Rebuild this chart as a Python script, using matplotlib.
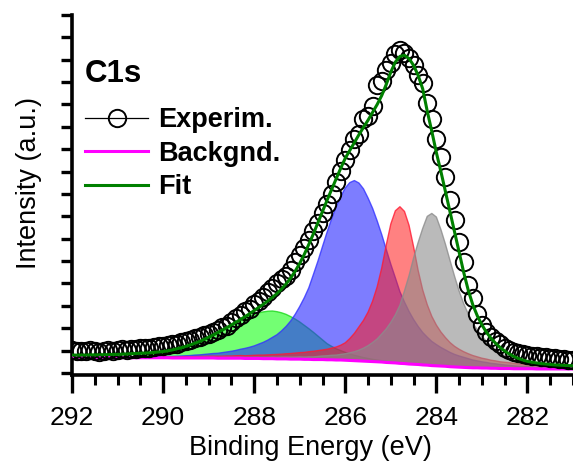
import numpy as np
import matplotlib
matplotlib.use("Agg")
import matplotlib.pyplot as plt
from matplotlib.lines import Line2D
from matplotlib.ticker import MultipleLocator

plt.rcParams['font.family'] = ['Liberation Sans', 'DejaVu Sans']

# Binding energy grid (eV), 292.0 -> 281.0 in 0.1 eV steps
energy = np.round(np.linspace(292.0, 281.0, 111), 2)

experim = [
    1.02, 0.98, 1.00, 0.97, 1.01, 0.99, 0.96, 1.00, 1.03, 0.99,
    1.02, 1.05, 1.03, 1.08, 1.06, 1.10, 1.13, 1.11, 1.17, 1.21,
    1.19, 1.26, 1.31, 1.30, 1.38, 1.42, 1.48, 1.55, 1.60, 1.68,
    1.75, 1.83, 1.92, 2.05, 2.12, 2.28, 2.45, 2.58, 2.75, 2.88,
    3.08, 3.22, 3.40, 3.62, 3.80, 4.02, 4.20, 4.35, 4.62, 4.95,
    5.28, 5.58, 5.95, 6.35, 6.72, 7.15, 7.55, 7.98, 8.55, 9.05,
    9.50, 9.95, 10.45, 10.70, 11.35, 11.50, 11.95, 12.85, 13.05, 13.55,
    13.85, 14.25, 14.45, 14.30, 14.10, 13.75, 13.30, 12.95, 12.05, 11.35,
    10.45, 9.65, 8.75, 7.75, 6.85, 5.85, 4.95, 3.95, 3.35, 2.65,
    2.15, 1.85, 1.62, 1.45, 1.28, 1.12, 1.02, 0.95, 0.88, 0.85,
    0.80, 0.78, 0.75, 0.73, 0.70, 0.68, 0.66, 0.64, 0.63, 0.60,
    0.59]

backgnd = [
    0.70, 0.70, 0.70, 0.70, 0.70, 0.69, 0.69, 0.69, 0.69, 0.69,
    0.69, 0.69, 0.68, 0.68, 0.68, 0.68, 0.68, 0.68, 0.68, 0.68,
    0.68, 0.68, 0.67, 0.67, 0.67, 0.67, 0.67, 0.67, 0.67, 0.67,
    0.67, 0.67, 0.66, 0.66, 0.66, 0.66, 0.66, 0.66, 0.65, 0.65,
    0.65, 0.65, 0.64, 0.64, 0.64, 0.63, 0.63, 0.63, 0.62, 0.62,
    0.62, 0.61, 0.61, 0.60, 0.60, 0.60, 0.59, 0.59, 0.58, 0.58,
    0.57, 0.56, 0.55, 0.54, 0.53, 0.52, 0.51, 0.50, 0.49, 0.47,
    0.46, 0.45, 0.43, 0.42, 0.40, 0.39, 0.38, 0.36, 0.35, 0.33,
    0.32, 0.31, 0.30, 0.28, 0.27, 0.26, 0.25, 0.24, 0.23, 0.23,
    0.22, 0.22, 0.21, 0.21, 0.20, 0.20, 0.20, 0.19, 0.19, 0.19,
    0.19, 0.19, 0.18, 0.18, 0.18, 0.18, 0.18, 0.18, 0.18, 0.18,
    0.18]

fit = [
    0.80, 0.80, 0.80, 0.80, 0.81, 0.81, 0.81, 0.82, 0.82, 0.83,
    0.83, 0.84, 0.85, 0.86, 0.87, 0.88, 0.89, 0.90, 0.92, 0.94,
    0.96, 0.99, 1.03, 1.08, 1.13, 1.19, 1.26, 1.33, 1.41, 1.50,
    1.60, 1.70, 1.81, 1.92, 2.03, 2.15, 2.27, 2.39, 2.52, 2.65,
    2.79, 2.93, 3.07, 3.22, 3.38, 3.55, 3.75, 3.98, 4.24, 4.55,
    4.90, 5.30, 5.75, 6.22, 6.72, 7.22, 7.72, 8.20, 8.68, 9.15,
    9.60, 9.95, 10.30, 10.65, 10.98, 11.30, 11.65, 12.00, 12.40, 12.90,
    13.45, 13.90, 14.15, 14.20, 14.05, 13.75, 13.30, 12.70, 11.70, 10.80,
    9.85, 9.00, 8.10, 7.20, 6.30, 5.40, 4.50, 3.70, 3.05, 2.55,
    2.15, 1.82, 1.55, 1.33, 1.14, 0.98, 0.85, 0.74, 0.65, 0.58,
    0.52, 0.48, 0.45, 0.42, 0.40, 0.38, 0.36, 0.35, 0.34, 0.33,
    0.32]

# Component intensities above background
peak_green = [
    0.01, 0.01, 0.01, 0.01, 0.01, 0.01, 0.02, 0.02, 0.02, 0.02,
    0.02, 0.03, 0.03, 0.04, 0.05, 0.07, 0.09, 0.11, 0.14, 0.17,
    0.20, 0.24, 0.29, 0.35, 0.40, 0.46, 0.53, 0.60, 0.68, 0.77,
    0.87, 0.98, 1.10, 1.22, 1.34, 1.46, 1.58, 1.70, 1.80, 1.89,
    1.97, 2.04, 2.09, 2.12, 2.13, 2.11, 2.06, 1.99, 1.90, 1.79,
    1.66, 1.52, 1.37, 1.22, 1.05, 0.88, 0.72, 0.60, 0.50, 0.42,
    0.35, 0.29, 0.24, 0.20, 0.16, 0.13, 0.10, 0.08, 0.06, 0.04,
    0.03, 0.02, 0.02, 0.01, 0.01, 0.00, 0.00, 0.00, 0.00, 0.00,
    0.00, 0.00, 0.00, 0.00, 0.00, 0.00, 0.00, 0.00, 0.00, 0.00,
    0.00, 0.00, 0.00, 0.00, 0.00, 0.00, 0.00, 0.00, 0.00, 0.00,
    0.00, 0.00, 0.00, 0.00, 0.00, 0.00, 0.00, 0.00, 0.00, 0.00,
    0.00]

peak_blue = [
    0.02, 0.02, 0.02, 0.02, 0.02, 0.02, 0.02, 0.02, 0.03, 0.03,
    0.03, 0.03, 0.03, 0.03, 0.03, 0.04, 0.04, 0.04, 0.04, 0.05,
    0.05, 0.06, 0.07, 0.08, 0.09, 0.10, 0.11, 0.13, 0.14, 0.16,
    0.18, 0.20, 0.22, 0.25, 0.28, 0.31, 0.35, 0.40, 0.45, 0.50,
    0.56, 0.64, 0.73, 0.83, 0.95, 1.08, 1.25, 1.45, 1.70, 2.00,
    2.35, 2.75, 3.20, 3.80, 4.40, 5.05, 5.70, 6.30, 6.85, 7.30,
    7.70, 7.95, 8.05, 7.95, 7.70, 7.30, 6.85, 6.30, 5.70, 5.05,
    4.40, 3.80, 3.20, 2.75, 2.35, 2.00, 1.70, 1.45, 1.25, 1.08,
    0.95, 0.83, 0.73, 0.64, 0.56, 0.50, 0.45, 0.40, 0.35, 0.31,
    0.28, 0.25, 0.22, 0.20, 0.18, 0.16, 0.14, 0.13, 0.11, 0.10,
    0.09, 0.08, 0.08, 0.07, 0.07, 0.06, 0.06, 0.05, 0.05, 0.05,
    0.04]

peak_red = [
    0.00, 0.00, 0.00, 0.00, 0.00, 0.00, 0.00, 0.00, 0.00, 0.00,
    0.00, 0.00, 0.00, 0.00, 0.00, 0.00, 0.00, 0.00, 0.00, 0.00,
    0.04, 0.04, 0.05, 0.05, 0.05, 0.06, 0.06, 0.06, 0.07, 0.07,
    0.08, 0.08, 0.09, 0.09, 0.10, 0.10, 0.11, 0.12, 0.12, 0.13,
    0.14, 0.15, 0.16, 0.17, 0.18, 0.20, 0.21, 0.23, 0.25, 0.27,
    0.29, 0.31, 0.34, 0.37, 0.40, 0.43, 0.47, 0.52, 0.58, 0.66,
    0.78, 0.98, 1.22, 1.52, 1.82, 2.20, 2.70, 3.35, 4.20, 5.25,
    6.20, 6.80, 7.00, 6.80, 6.20, 5.25, 4.20, 3.35, 2.70, 2.20,
    1.82, 1.52, 1.28, 1.08, 0.92, 0.80, 0.70, 0.62, 0.55, 0.49,
    0.44, 0.40, 0.36, 0.33, 0.30, 0.28, 0.26, 0.24, 0.22, 0.20,
    0.18, 0.17, 0.16, 0.15, 0.14, 0.13, 0.12, 0.11, 0.10, 0.10,
    0.09]

peak_gray = [
    0.00, 0.00, 0.00, 0.00, 0.00, 0.00, 0.00, 0.00, 0.00, 0.00,
    0.00, 0.00, 0.00, 0.00, 0.00, 0.00, 0.00, 0.00, 0.00, 0.00,
    0.02, 0.02, 0.02, 0.02, 0.02, 0.02, 0.03, 0.03, 0.03, 0.03,
    0.03, 0.03, 0.03, 0.04, 0.04, 0.04, 0.04, 0.04, 0.05, 0.05,
    0.05, 0.05, 0.06, 0.06, 0.07, 0.07, 0.08, 0.08, 0.09, 0.09,
    0.10, 0.10, 0.11, 0.12, 0.14, 0.16, 0.18, 0.20, 0.22, 0.25,
    0.29, 0.34, 0.40, 0.48, 0.58, 0.70, 0.85, 1.02, 1.25, 1.50,
    1.80, 2.15, 2.60, 3.25, 3.95, 4.75, 5.45, 6.10, 6.65, 6.80,
    6.65, 6.10, 5.45, 4.75, 4.05, 3.40, 2.85, 2.40, 2.00, 1.70,
    1.42, 1.20, 1.00, 0.84, 0.70, 0.58, 0.49, 0.42, 0.36, 0.31,
    0.27, 0.24, 0.21, 0.19, 0.17, 0.15, 0.14, 0.13, 0.12, 0.11,
    0.10]

x_ticks = [292, 290, 288, 286, 284, 282]
legend_labels = ["Experim.", "Backgnd.", "Fit"]
title_text = "C1s"

W, H = 573, 461
fig = plt.figure(figsize=(W / 100, H / 100), dpi=100)
fig.patch.set_facecolor("white")
ax = fig.add_axes([72 / W, (H - 375) / H, (573 - 72) / W, (375 - 15) / H])

bg = np.array(backgnd)
components = [
    (peak_green, (0.0, 1.0, 0.0), (0.1, 0.85, 0.1), 0.55),
    (peak_blue, (0.15, 0.15, 1.0), (0.2, 0.2, 1.0), 0.6),
    (peak_red, (1.0, 0.1, 0.1), (1.0, 0.1, 0.2), 0.55),
    (peak_gray, (0.55, 0.55, 0.55), (0.55, 0.55, 0.55), 0.6),
]
for vals, fc, ec, a in components:
    top = bg + np.array(vals)
    ax.fill_between(energy, bg, top, facecolor=fc, alpha=a, lw=0, zorder=2)
    ax.plot(energy, top, color=ec, lw=1.0, alpha=0.8, zorder=2)

ax.plot(energy, backgnd, color=(1.0, 0.0, 1.0), lw=2.2, zorder=3)
ax.plot(energy, experim, ls="none", marker="o", ms=12.5, mfc="none",
        mec="black", mew=1.4, zorder=4)
ax.plot(energy, fit, color=(0.0, 0.5, 0.0), lw=2.2, zorder=5)

ax.set_xlim(292, 281)
ax.set_ylim(-0.09, 16.0)
ax.set_xticks(x_ticks)
ax.set_xticklabels([str(t) for t in x_ticks])
ax.xaxis.set_minor_locator(MultipleLocator(0.5))
ax.yaxis.set_major_locator(MultipleLocator(1))
ax.set_yticklabels([])

for s in ["top", "right"]:
    ax.spines[s].set_visible(False)
for s in ["left", "bottom"]:
    ax.spines[s].set_linewidth(2.6)
ax.tick_params(axis="x", which="major", direction="out", length=13, width=2.4,
               labelsize=19, pad=9)
ax.tick_params(axis="x", which="minor", direction="out", length=7.5, width=2.2)
ax.tick_params(axis="y", which="major", direction="out", length=8, width=2.4)

ax.set_xlabel("Binding Energy (eV)", fontsize=19.5)
ax.xaxis.set_label_coords((310 - 72) / 501, (375 - 435) / 360)
ax.set_ylabel("Intensity (a.u.)", fontsize=19.5)
ax.yaxis.set_label_coords((42 - 72) / 501, (375 - 183) / 360)

ax.text(13 / 501, (375 - 74) / 360, title_text, transform=ax.transAxes,
        fontsize=22.5, fontweight="bold", va="center", ha="left")

handles = [
    Line2D([], [], color="black", lw=0.9, marker="o", ms=12.5, mfc="none",
           mec="black", mew=1.4),
    Line2D([], [], color=(1.0, 0.0, 1.0), lw=2.2),
    Line2D([], [], color=(0.0, 0.5, 0.0), lw=2.2),
]
leg = ax.legend(handles, legend_labels, loc="upper left",
                bbox_to_anchor=(13 / 501, (375 - 107) / 360), frameon=False,
                borderpad=0, borderaxespad=0, handlelength=2.33,
                handletextpad=0.37, labelspacing=0.28,
                prop={"size": 19.5, "weight": "bold"})

fig.savefig("out.png", dpi=100, facecolor="white")
